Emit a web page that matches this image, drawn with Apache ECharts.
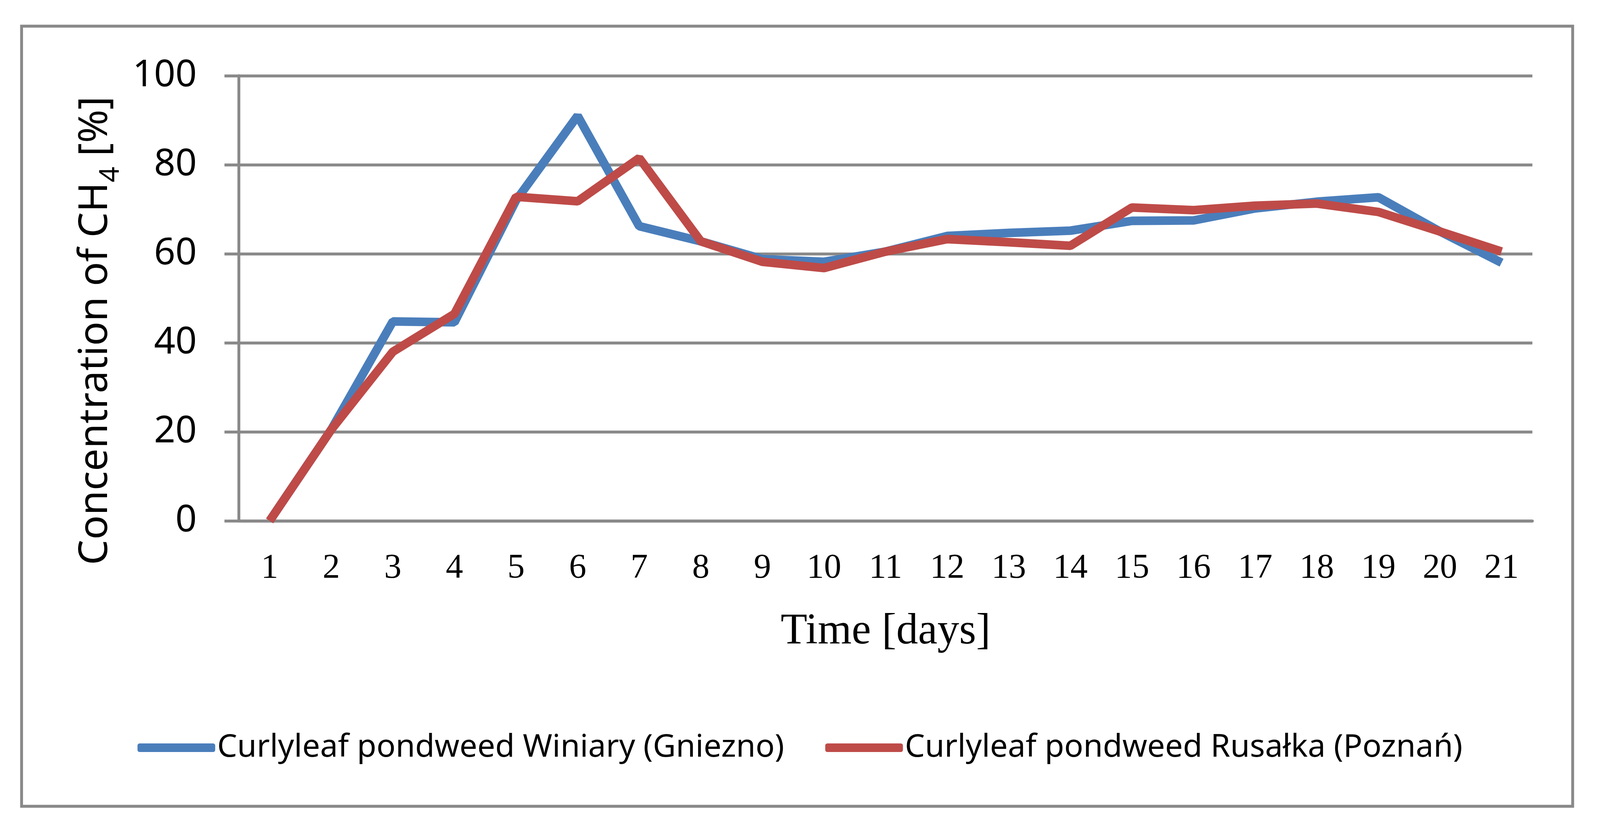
<!DOCTYPE html>
<html>
<head>
<meta charset="utf-8">
<script src="https://cdn.jsdelivr.net/npm/echarts@6/dist/echarts.min.js"></script>
<style>
html,body{margin:0;padding:0;background:#fff;overflow:hidden;}
#chart{width:100vw;height:100vh;}
</style>
</head>
<body>
<div id="chart"></div>
<script>
const days = ['1','2','3','4','5','6','7','8','9','10','11','12','13','14','15','16','17','18','19','20','21'];
const winiary = [0, 20.5, 44.8, 44.6, 72, 91, 66.2, 62.8, 58.8, 58.2, 60.5, 64, 64.7, 65.2, 67.4, 67.5, 70.2, 71.7, 72.7, 65, 58];
const rusalka = [0, 20.5, 38, 46.5, 72.8, 71.8, 81.5, 62.8, 58.2, 56.8, 60.5, 63.3, 62.6, 61.8, 70.4, 69.8, 70.8, 71.3, 69.4, 65, 60.5];
const seriesNames = ['Curlyleaf pondweed Winiary (Gniezno)', 'Curlyleaf pondweed Rusałka (Poznań)'];
const yTicks = [0, 20, 40, 60, 80, 100];

const el = document.getElementById('chart');
const W = el.clientWidth || window.innerWidth;
const H = el.clientHeight || window.innerHeight;
const sx = W / 4448, sy = H / 2136, s = Math.min(sx, sy);
const X = v => v * sx, Y = v => v * sy, S = v => v * s;

const gray = '#898989';
const chart = echarts.init(el);
chart.setOption({
  animation: false,
  backgroundColor: '#fff',
  graphic: [{
    type: 'rect',
    shape: {x: X(60), y: Y(67), width: X(4312), height: Y(1998)},
    style: {fill: 'none', stroke: gray, lineWidth: S(8)},
    silent: true
  }],
  grid: {left: X(664), right: X(188), top: Y(194), bottom: Y(802)},
  legend: {
    data: seriesNames,
    top: Y(1910) - S(50),
    left: 'center',
    itemWidth: S(216),
    itemHeight: S(24),
    itemGap: S(114),
    icon: 'roundRect',
    textStyle: {fontFamily: 'Noto Sans', fontSize: S(88), color: '#000', lineHeight: S(100)}
  },
  xAxis: {
    type: 'category',
    data: days,
    boundaryGap: true,
    name: 'Time [days]',
    nameLocation: 'middle',
    nameGap: Y(229),
    nameTextStyle: {fontFamily: 'Liberation Serif', fontSize: S(121), color: '#000'},
    axisLine: {show: true, lineStyle: {color: gray, width: S(8)}},
    axisTick: {show: false},
    axisLabel: {fontFamily: 'Liberation Serif', fontSize: S(96), color: '#000', margin: Y(78), interval: 0},
    splitLine: {show: false}
  },
  yAxis: {
    type: 'value',
    min: yTicks[0],
    max: yTicks[yTicks.length - 1],
    interval: 20,
    name: '{m|Concentration of CH}{s|4}{m| [%]}',
    nameLocation: 'middle',
    nameRotate: 90,
    nameGap: X(318),
    nameTextStyle: {
      color: '#000',
      padding: [0, Y(166), 0, 0],
      rich: {
        m: {fontFamily: 'Noto Sans', fontSize: Y(103), color: '#000'},
        s: {fontFamily: 'Noto Sans', fontSize: Y(70), color: '#000', padding: [Y(78), 0, 0, 0]}
      }
    },
    axisLine: {show: true, lineStyle: {color: gray, width: S(8)}},
    axisTick: {show: true, length: X(40), lineStyle: {color: gray, width: S(8)}},
    axisLabel: {fontFamily: 'Noto Sans', fontSize: S(104), color: '#000', margin: X(117)},
    splitLine: {show: true, lineStyle: {color: gray, width: S(8)}}
  },
  series: [
    {name: seriesNames[0], type: 'line', data: winiary, showSymbol: false, symbol: 'none',
     lineStyle: {color: '#4A7EBB', width: S(24)}, itemStyle: {color: '#4A7EBB'}},
    {name: seriesNames[1], type: 'line', data: rusalka, showSymbol: false, symbol: 'none',
     lineStyle: {color: '#BE4B48', width: S(24)}, itemStyle: {color: '#BE4B48'}}
  ]
});
</script>
</body>
</html>
